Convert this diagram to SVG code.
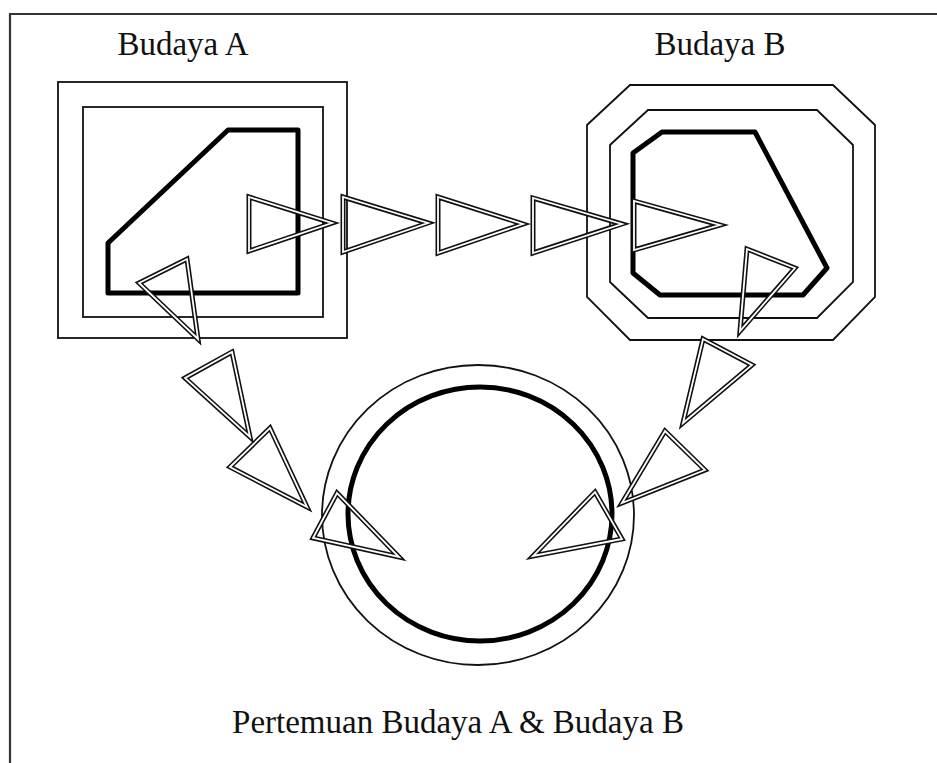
<svg xmlns="http://www.w3.org/2000/svg" xmlns:xlink="http://www.w3.org/1999/xlink" width="937" height="763" viewBox="0 0 937 763">
<style>
.frame{stroke:#333;stroke-width:2.2;fill:none}
.thin{fill:none;stroke:#111;stroke-width:1.8}
.thick{fill:none;stroke:#000;stroke-width:5;stroke-linejoin:round}
.lbl{font-family:"Liberation Serif","Times New Roman",serif;font-size:33px;fill:#111}
.to{fill:none;stroke:#111;stroke-width:5;stroke-linejoin:miter;stroke-miterlimit:12}
.ti{fill:none;stroke:#fff;stroke-width:1.8;stroke-linejoin:miter;stroke-miterlimit:12}
</style>
<defs>
<polygon id="t1" points="249,197 249,251 332,223"/>
<polygon id="t2" points="343,197 343,252 428,223"/>
<polygon id="t3" points="438,197 438,253 523,224"/>
<polygon id="t4" points="533,198 533,253 622,224"/>
<polygon id="t5" points="634,201 634,250 720,225"/>
<polygon id="t6" points="139,283 187,259 198,339"/>
<polygon id="t7" points="185,378 232,352 250,437"/>
<polygon id="t8" points="230,467 270,428 307,507"/>
<polygon id="t9" points="313,538 337,493 399,557"/>
<polygon id="t10" points="747,249 795,268 740,331"/>
<polygon id="t11" points="703,339 752,365 683,423"/>
<polygon id="t12" points="665,431 705,470 622,503"/>
<polygon id="t13" points="595,492 622,539 533,556"/>
</defs>
<rect width="937" height="763" fill="#fff"/>
<g id="frame">
<line class="frame" x1="9" y1="14" x2="937" y2="14"/>
<line class="frame" x1="10" y1="13" x2="10" y2="763"/>
</g>
<g id="budaya-a">
<rect class="thin" x="58" y="82" width="289" height="256"/>
<rect class="thin" x="83" y="107" width="240" height="210"/>
<polygon class="thick" points="228,130 298,130 298,293 108,293 108,243"/>
<text class="lbl" x="183" y="55" text-anchor="middle">Budaya A</text>
</g>
<g id="budaya-b">
<polygon class="thin" points="630,85 833,85 875,125 875,297 833,340 630,340 587,297 587,125"/>
<polygon class="thin" points="648,110 817,110 853,145 853,282 817,318 648,318 610,282 610,145"/>
<polygon class="thick" points="662,132 755,132 827,268 803,295 660,295 633,273 633,153"/>
<text class="lbl" x="720" y="55" text-anchor="middle">Budaya B</text>
</g>
<g id="pertemuan">
<ellipse class="thin" cx="478" cy="515" rx="156" ry="150"/>
<ellipse class="thick" cx="480" cy="514" rx="132" ry="127"/>
<text class="lbl" x="458" y="733" text-anchor="middle">Pertemuan Budaya A &amp; Budaya B</text>
</g>
<g id="connectors">
<use xlink:href="#t1" class="to"/><use xlink:href="#t1" class="ti"/>
<use xlink:href="#t2" class="to"/><use xlink:href="#t2" class="ti"/>
<use xlink:href="#t3" class="to"/><use xlink:href="#t3" class="ti"/>
<use xlink:href="#t4" class="to"/><use xlink:href="#t4" class="ti"/>
<use xlink:href="#t5" class="to"/><use xlink:href="#t5" class="ti"/>
<use xlink:href="#t6" class="to"/><use xlink:href="#t6" class="ti"/>
<use xlink:href="#t7" class="to"/><use xlink:href="#t7" class="ti"/>
<use xlink:href="#t8" class="to"/><use xlink:href="#t8" class="ti"/>
<use xlink:href="#t9" class="to"/><use xlink:href="#t9" class="ti"/>
<use xlink:href="#t10" class="to"/><use xlink:href="#t10" class="ti"/>
<use xlink:href="#t11" class="to"/><use xlink:href="#t11" class="ti"/>
<use xlink:href="#t12" class="to"/><use xlink:href="#t12" class="ti"/>
<use xlink:href="#t13" class="to"/><use xlink:href="#t13" class="ti"/>
</g>
</svg>
